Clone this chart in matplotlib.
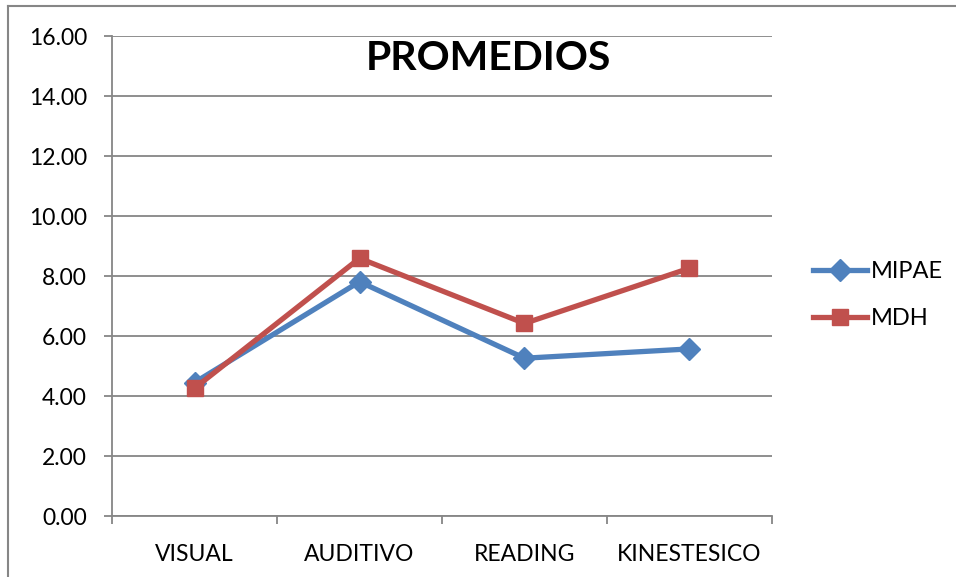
import matplotlib
matplotlib.use("Agg")
import matplotlib.pyplot as plt
from matplotlib.lines import Line2D

plt.rcParams['font.family'] = ['Lato', 'DejaVu Sans']

categories = ['VISUAL', 'AUDITIVO', 'READING', 'KINESTESICO']
mipae = [4.45, 7.81, 5.26, 5.57]
mdh = [4.26, 8.59, 6.42, 8.26]
yticks = [0, 2, 4, 6, 8, 10, 12, 14, 16]

grey = '#868686'
blue = '#4F81BD'
red = '#C0504D'

fig = plt.figure(figsize=(9.56, 5.77), dpi=100)
ax = fig.add_axes([0.1172, 0.1057, 0.6903, 0.8319])

x = range(len(categories))
ax.plot(x, mipae, color=blue, lw=3.8, marker='D', ms=11,
        mec=blue, mfc=blue, label='MIPAE', zorder=3)
ax.plot(x, mdh, color=red, lw=3.8, marker='s', ms=12,
        mec=red, mfc=red, label='MDH', zorder=4)

ax.set_xlim(-0.5, len(categories) - 0.5)
ax.set_ylim(0, 16)
ax.set_yticks(yticks)
ax.set_yticklabels([f'{v:.2f}' for v in yticks])
ax.yaxis.grid(True, color=grey, lw=1.3)
ax.set_axisbelow(True)

ax.set_xticks(list(x))
ax.set_xticklabels(categories)
ax.set_xticks([i - 0.5 for i in range(len(categories) + 1)], minor=True)
ax.tick_params(axis='x', which='major', length=0, pad=20, labelsize=16.5)
ax.tick_params(axis='x', which='minor', length=6, color=grey, width=1.3)
ax.tick_params(axis='y', length=6, color=grey, width=1.3, pad=12, labelsize=16.5)

for s in ['top', 'right']:
    ax.spines[s].set_visible(False)
for s in ['left', 'bottom']:
    ax.spines[s].set_color(grey)
    ax.spines[s].set_linewidth(1.3)

ax.text(0.571, 0.954, 'PROMEDIOS', transform=ax.transAxes, ha='center',
        va='center', fontsize=29.5, fontweight='bold')

fig.legend(loc='center left', bbox_to_anchor=(0.828, 0.488), frameon=False,
           fontsize=17, handlelength=2.3, handletextpad=0.15, labelspacing=1.1)

# outer chart border (only top and left visible)
fig.add_artist(Line2D([8 / 956, 8 / 956], [0, 1 - 6 / 577], transform=fig.transFigure,
                      color=grey, lw=1.5))
fig.add_artist(Line2D([8 / 956, 1], [1 - 6 / 577, 1 - 6 / 577], transform=fig.transFigure,
                      color=grey, lw=1.5))

fig.savefig('out.png', dpi=100)
